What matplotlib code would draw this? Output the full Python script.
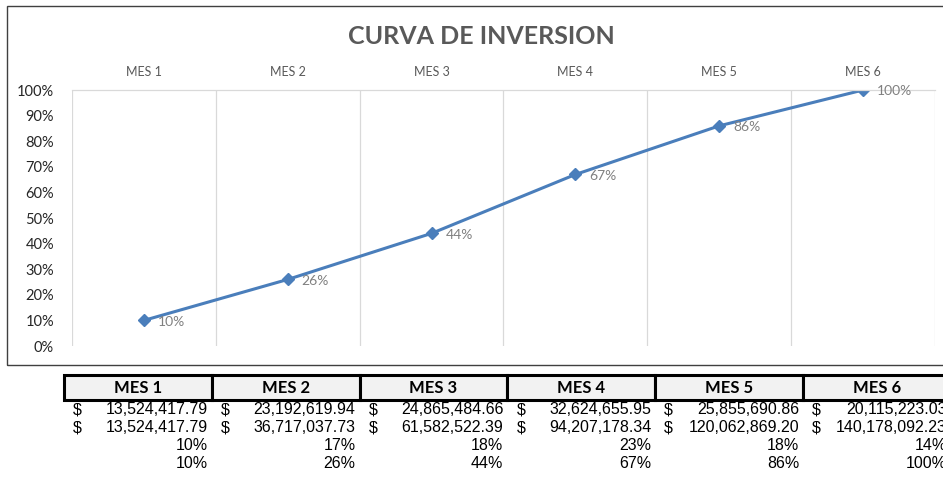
import numpy as np
import matplotlib
matplotlib.use('Agg')
import matplotlib.pyplot as plt
from matplotlib.patches import Rectangle

# datos de la tabla
meses = ['MES 1', 'MES 2', 'MES 3', 'MES 4', 'MES 5', 'MES 6']
mensual = [13524417.79, 23192619.94, 24865484.66, 32624655.95, 25855690.86, 20115223.03]
acumulado = [13524417.79, 36717037.73, 61582522.39, 94207178.34, 120062869.20, 140178092.23]
pct_mensual = [10, 17, 18, 23, 18, 14]
pct_acum = [10, 26, 44, 67, 86, 100]

W, H = 943, 483
fig = plt.figure(figsize=(W / 100, H / 100), dpi=100)
fig.patch.set_facecolor('white')

def fx(x):
    return x / W

def fy(y):
    return 1 - y / H

# marco del grafico
fig.patches.append(Rectangle((fx(7), fy(365)), fx(960) - fx(7), fy(6) - fy(365),
                             transform=fig.transFigure, fill=False, edgecolor='#404040', lw=1.0))

ax = fig.add_axes([fx(72), fy(346), fx(935) - fx(72), fy(90) - fy(346)])
x = np.arange(len(meses))
y = np.array(pct_acum) / 100
ax.plot(x, y, color='#4A7EBB', lw=2.2, marker='D', markersize=6.5)
for xi, yi, p in zip(x, y, pct_acum):
    ax.annotate(f'{p}%', (xi, yi), xytext=(10, -1), textcoords='offset points',
                ha='left', va='center', color='#808080', fontsize=10, family='Lato')

ax.set_xlim(-0.5, len(meses) - 0.5)
ax.set_ylim(0, 1)
ax.xaxis.tick_top()
ax.set_xticks(x)
ax.set_xticklabels(meses, color='#595959', fontsize=9, family='Lato')
ax.set_xticks(np.arange(-0.5, len(meses)), minor=True)
ax.grid(True, axis='x', which='minor', color='#D9D9D9', lw=0.9)
ax.tick_params(axis='x', which='both', length=0, pad=9)
ax.set_yticks(np.linspace(0, 1, 11))
ax.set_yticklabels([f'{v}%' for v in range(0, 101, 10)], color='#262626', fontsize=10.5, family='Lato')
ax.tick_params(axis='y', length=0, pad=13)
for s in ['left', 'right', 'bottom']:
    ax.spines[s].set_visible(False)
ax.spines['top'].set_color('#D9D9D9')
ax.spines['top'].set_linewidth(0.9)

fig.text(fx(481), fy(37), 'CURVA DE INVERSION', ha='center', va='center',
         fontsize=18, fontweight='bold', color='#595959', family='Lato')

# tabla
x0, cw = 64, 147.8
for i, m in enumerate(meses):
    left = x0 + i * cw
    fig.patches.append(Rectangle((fx(left), fy(400)), fx(cw), fy(375) - fy(400),
                                 transform=fig.transFigure, facecolor='#F2F2F2',
                                 edgecolor='black', lw=2.2))
    fig.text(fx(left + cw / 2), fy(388), m, ha='center', va='center',
             fontsize=12, fontweight='bold', color='black', family='Lato')
    right = left + cw - 4
    for row, val in zip([410, 428], [mensual[i], acumulado[i]]):
        fig.text(fx(left + 9), fy(row), '$', ha='left', va='center',
                 fontsize=11.5, family='Liberation Sans')
        fig.text(fx(right), fy(row), f'{val:,.2f}', ha='right', va='center',
                 fontsize=11.5, family='Liberation Sans')
    fig.text(fx(right), fy(446), f'{pct_mensual[i]}%', ha='right', va='center',
             fontsize=11.5, family='Liberation Sans')
    fig.text(fx(right), fy(464), f'{pct_acum[i]}%', ha='right', va='center',
             fontsize=11.5, family='Liberation Sans')

fig.savefig('out.png', dpi=100)
